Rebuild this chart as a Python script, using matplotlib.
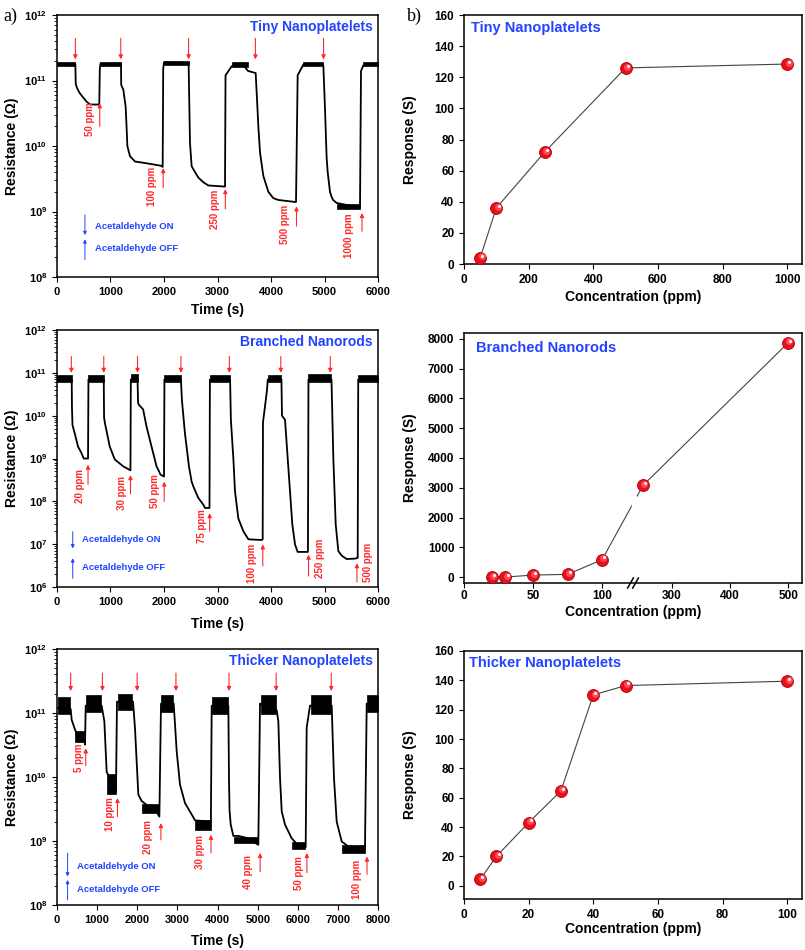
import numpy as np
import matplotlib
matplotlib.use('Agg')
import matplotlib.pyplot as plt
from matplotlib.transforms import offset_copy
from matplotlib.ticker import LogLocator, FuncFormatter, NullFormatter
from matplotlib.patches import Rectangle

plt.rcParams.update({
    'font.family': ['Liberation Sans', 'DejaVu Sans'],
    'font.weight': 'bold',
    'axes.labelweight': 'bold',
    'mathtext.fontset': 'custom',
    'mathtext.rm': 'Liberation Sans:bold',
    'mathtext.bf': 'Liberation Sans:bold',
    'mathtext.default': 'bf',
    'xtick.direction': 'out',
    'ytick.direction': 'out',
    'xtick.major.size': 3.5,
    'ytick.major.size': 3.5,
    'ytick.minor.size': 2,
    'axes.linewidth': 1.1,
})

RED = '#ff2a2a'
BLUE = '#2244ff'

# ---------------- a) resistance transients ----------------
# tiny nanoplatelets
t_tiny = [0, 343, 350, 370, 420, 490, 560, 620, 790, 800, 812,
          1196, 1200, 1240, 1283, 1300, 1315, 1364, 1458, 1645, 1944, 1975, 1985, 2000,
          2460, 2470, 2486, 2517, 2579, 2641, 2735, 2828, 3140, 3150, 3265, 3450, 3570, 3713,
          3732, 3763, 3794, 3856, 3950, 4043, 4137, 4449, 4467, 4498, 4604, 4947,
          4978, 5009, 5040, 5059, 5102, 5130, 5160, 5227, 5663, 5682, 5725, 6000]
r_tiny = [1.8e11, 1.8e11, 9e10, 7.8e10, 6.5e10, 5.5e10, 4.7e10, 4.3e10, 4.3e10, 1.5e11, 1.8e11,
          1.8e11, 8.6e10, 7.2e10, 4e10, 2e10, 1e10, 7e9, 5.8e9, 5.5e9, 5e9, 4.8e9, 1.5e11, 1.9e11,
          1.85e11, 6e10, 1.1e10, 4.9e9, 4e9, 3.3e9, 2.8e9, 2.5e9, 2.4e9, 1.2e11, 1.65e11, 1.85e11, 1.4e11, 1.3e11,
          6.5e10, 2e10, 8e9, 3.5e9, 2e9, 1.6e9, 1.5e9, 1.4e9, 1.4e9, 1.2e11, 1.75e11, 1.8e11,
          1.7e11, 3.7e10, 6.5e9, 4e9, 2e9, 1.7e9, 1.5e9, 1.35e9, 1.15e9, 1.4e11, 1.7e11, 1.8e11]
band_tiny = [(0, 343, 1.65e11, 1.95e11), (812, 1196, 1.65e11, 1.95e11), (2000, 2460, 1.7e11, 2.0e11),
             (3265, 3570, 1.6e11, 1.95e11), (4604, 4978, 1.65e11, 1.95e11), (5725, 6000, 1.65e11, 1.95e11),
             (5230, 5663, 1.08e9, 1.3e9)]
on_tiny = [343, 1192, 2460, 3708, 4982]
off_tiny = [799, 1985, 3146, 4476, 5700]
off_tail_tiny = [2e10, 2.3e9, 1.1e9, 6e8, 5e8]
off_tip_tiny = [4.5e10, 4.6e9, 2.2e9, 1.2e9, 9.5e8]
lab_tiny = ['50 ppm', '100 ppm', '250 ppm', '500 ppm', '1000 ppm']
lab_t_tiny = [624, 1767, 2953, 4264, 5450]
lab_r_tiny = [2.6e10, 2.4e9, 1.07e9, 6.3e8, 4.3e8]

# branched nanorods
t_rod = [0, 275, 280, 290, 331, 393, 450, 500, 580, 588,
         874, 880, 893, 986, 1080, 1236, 1373, 1380,
         1505, 1515, 1530, 1610, 1673, 1767, 1860, 1935, 2000, 2008,
         2316, 2335, 2391, 2466, 2516, 2550, 2641, 2734, 2766, 2850, 2858,
         3235, 3250, 3296, 3327, 3389, 3483, 3577, 3826, 3844, 3850, 3900, 3925, 3940,
         4195, 4205, 4262, 4312, 4355, 4398, 4449, 4498, 4690, 4700,
         5130, 5165, 5209, 5258, 5321, 5414, 5570, 5620, 5630, 6000]
r_rod = [7e10, 7e10, 1.5e10, 6e9, 3.9e9, 1.9e9, 1.4e9, 1e9, 1e9, 7e10,
         7e10, 9e9, 7e9, 1.9e9, 9.5e8, 6.6e8, 5.3e8, 7e10,
         7.5e10, 2e10, 1.8e10, 1.4e10, 5.6e9, 1.9e9, 6.6e8, 4.2e8, 3.8e8, 7e10,
         7e10, 2.3e10, 3.9e9, 6.6e8, 2.9e8, 2.2e8, 1.2e8, 8.4e7, 7e7, 7e7, 7e10,
         7e10, 8e9, 1e9, 1.7e8, 4e7, 2e7, 1.3e7, 1.25e7, 1.3e7, 7e9, 2.2e10, 4e10, 7e10,
         7e10, 1e10, 8e9, 1e9, 1.7e8, 2.9e7, 9.8e6, 6.6e6, 6.6e6, 7e10,
         7e10, 1e9, 2.9e7, 6.9e6, 5.4e6, 4.5e6, 4.6e6, 4.8e6, 7e10, 7e10]
band_rod = [(0, 275, 6e10, 9e10), (588, 874, 6e10, 9e10), (1380, 1505, 6e10, 9.5e10),
            (2008, 2316, 6e10, 9e10), (2858, 3235, 6e10, 9e10), (3940, 4195, 6e10, 9e10),
            (4700, 5130, 6e10, 9.5e10), (5630, 6000, 6e10, 9e10)]
on_rod = [268, 874, 1505, 2316, 3221, 4183, 5107]
off_rod = [580, 1373, 2004, 2853, 3846, 4701, 5606]
off_tail_rod = [2.5e8, 1.5e8, 1e8, 2e7, 3.1e6, 1.8e6, 1.3e6]
off_tip_rod = [7.2e8, 4.1e8, 2.9e8, 5.3e7, 9.9e6, 5.7e6, 3.6e6]
lab_rod = ['20 ppm', '30 ppm', '50 ppm', '75 ppm', '100 ppm', '250 ppm', '500 ppm']
lab_t_rod = [424, 1224, 1829, 2703, 3652, 4920, 5812]
lab_r_rod = [2.3e8, 1.6e8, 1.7e8, 2.7e7, 3.5e6, 4.6e6, 3.8e6]

# thicker nanoplatelets
t_thick = [0, 341, 366, 449, 500, 690, 698, 716,
           1112, 1180, 1238, 1470, 1495,
           1895, 1944, 1986, 2027, 2110, 2276, 2442, 2551, 2592,
           2908, 2941, 2983, 3065, 3190, 3356, 3440, 3835, 3855,
           4270, 4286, 4300, 4329, 4395, 4520, 4768, 5017, 5059,
           5475, 5516, 5558, 5600, 5682, 5849, 6013, 6197, 6222, 6305,
           6846, 6862, 6903, 6970, 7095, 7260, 7675, 7718, 8000]
r_thick = [1.2e11, 1.15e11, 7.8e10, 5.5e10, 4.5e10, 3.5e10, 3.2e10, 1.3e11,
           1.3e11, 7.4e10, 1.2e10, 6e9, 1.5e11,
           1.5e11, 5.7e10, 1.7e10, 5.3e9, 4.2e9, 3.5e9, 3.1e9, 2.4e9, 1.4e11,
           1.4e11, 6.6e10, 2.5e10, 7.6e9, 3.9e9, 2.6e9, 2.1e9, 2e9, 1.3e11,
           1.3e11, 9.5e9, 3e9, 1.8e9, 1.2e9, 1.2e9, 1.1e9, 8.7e8, 1.4e11,
           1.1e11, 7.4e10, 9.5e9, 2.9e9, 1.8e9, 1.1e9, 8.5e8, 8e8, 5.9e10, 1.3e11,
           1.3e11, 6e10, 9.5e9, 2e9, 9.8e8, 8.2e8, 7.8e8, 1.4e11, 1.4e11]
band_thick = [(20, 330, 9.5e10, 1.8e11), (730, 1100, 1.05e11, 1.9e11), (1510, 1880, 1.1e11, 2.0e11),
              (2600, 2900, 1.05e11, 1.9e11), (3870, 4260, 9.5e10, 1.8e11), (5075, 5460, 9.5e10, 1.9e11),
              (6320, 6835, 9.5e10, 1.9e11), (7730, 8000, 1.05e11, 1.9e11),
              (460, 680, 3.5e10, 5.2e10), (1250, 1460, 5.5e9, 1.1e10), (2130, 2540, 2.7e9, 3.8e9),
              (3450, 3830, 1.5e9, 2.1e9), (4420, 5010, 9.2e8, 1.15e9), (5860, 6190, 7.6e8, 9.5e8),
              (7110, 7670, 6.5e8, 8.8e8)]
on_thick = [341, 1132, 1998, 2964, 4287, 5461, 6835]
off_thick = [716, 1507, 2589, 3838, 5062, 6227, 7725]
off_tail_thick = [1.5e10, 2.4e9, 1.04e9, 6.5e8, 3.3e8, 3.2e8, 3e8]
off_tip_thick = [2.8e10, 4.7e9, 1.9e9, 1.25e9, 6.5e8, 6.5e8, 5.7e8]
lab_thick = ['5 ppm', '10 ppm', '20 ppm', '30 ppm', '40 ppm', '50 ppm', '100 ppm']
lab_t_thick = [549, 1315, 2273, 3563, 4770, 6019, 7476]
lab_r_thick = [2.0e10, 2.6e9, 1.17e9, 6.8e8, 3.3e8, 3.2e8, 2.5e8]

# ---------------- b) response vs concentration ----------------
conc_tiny = [50, 100, 250, 500, 1000]
resp_tiny = [4, 36, 72, 126, 128.5]
conc_rod = [20, 30, 50, 75, 100, 250, 500]
resp_rod = [0, 0, 67, 90, 584, 3080, 7870]
conc_thick = [5, 10, 20, 30, 40, 50, 100]
resp_thick = [4.3, 20, 43, 64.7, 130, 136.4, 139.4]

fig = plt.figure(figsize=(8.05, 9.5), dpi=100)


def left_panel(rect, t, r, bands, tmax, ylo, title, on_t, on_r, off_t, off_tail, off_tip,
               labs, lab_t, lab_r, leg, xlab_y):
    ax = fig.add_axes(rect)
    for t0, t1, lo, hi in bands:
        ax.fill_between([t0, t1], [lo, lo], [hi, hi], color='black', lw=0.5)
    ax.plot(t, r, color='black', lw=1.3)
    ax.set_yscale('log')
    ax.set_xlim(0, tmax)
    ax.set_ylim(ylo, 1e12)
    ax.set_xticks(np.arange(0, tmax + 1, 1000))
    ax.yaxis.set_major_locator(LogLocator(base=10, numticks=10))
    ax.yaxis.set_minor_locator(LogLocator(base=10, subs=np.arange(2, 10), numticks=10))
    ax.yaxis.set_minor_formatter(NullFormatter())
    ax.yaxis.set_major_formatter(FuncFormatter(lambda v, p: r'$10^{%d}$' % round(np.log10(v))))
    ax.tick_params(labelsize=8)
    ax.set_xlabel('Time (s)', fontsize=10)
    ax.set_ylabel('Resistance (\u03a9)', fontsize=10)
    ax.xaxis.set_label_coords(0.5, xlab_y)
    ax.yaxis.set_label_coords(-0.118, 0.5)
    ax.text(0.983, 0.953, title, transform=ax.transAxes, ha='right', va='center',
            color=BLUE, fontsize=10, fontweight='bold')
    for x in on_t:
        ax.annotate('', xy=(x, on_r[1]), xytext=(x, on_r[0]),
                    arrowprops=dict(arrowstyle='-|>', color=RED, lw=0.8, shrinkA=0, shrinkB=0,
                                    mutation_scale=6))
    for x, a, b in zip(off_t, off_tail, off_tip):
        ax.annotate('', xy=(x, b), xytext=(x, a),
                    arrowprops=dict(arrowstyle='-|>', color=RED, lw=0.8, shrinkA=0, shrinkB=0,
                                    mutation_scale=6))
    for s, x, y in zip(labs, lab_t, lab_r):
        ax.text(x, y, s, rotation=90, ha='center', va='center', color=RED, fontsize=7,
                fontweight='bold')
    ax_x, tx, d0, d1, u0, u1, y_on, y_off = leg
    ax.annotate('', xy=(ax_x, d1), xytext=(ax_x, d0), xycoords='axes fraction',
                arrowprops=dict(arrowstyle='-|>', color=BLUE, lw=0.7, shrinkA=0, shrinkB=0,
                                mutation_scale=5))
    ax.annotate('', xy=(ax_x, u1), xytext=(ax_x, u0), xycoords='axes fraction',
                arrowprops=dict(arrowstyle='-|>', color=BLUE, lw=0.7, shrinkA=0, shrinkB=0,
                                mutation_scale=5))
    ax.text(tx, y_on, 'Acetaldehyde ON', transform=ax.transAxes, color=BLUE, fontsize=6.8,
            va='center', fontweight='bold')
    ax.text(tx, y_off, 'Acetaldehyde OFF', transform=ax.transAxes, color=BLUE, fontsize=6.8,
            va='center', fontweight='bold')
    return ax


left_panel([0.0708, 0.7084, 0.3988, 0.2758], t_tiny, r_tiny, band_tiny, 6000, 1e8,
           'Tiny Nanoplatelets', on_tiny, (4.4e11, 2.1e11), off_tiny, off_tail_tiny, off_tip_tiny,
           lab_tiny, lab_t_tiny, lab_r_tiny,
           (0.087, 0.118, 0.237, 0.16, 0.067, 0.144, 0.192, 0.11), -0.099)
left_panel([0.0708, 0.3821, 0.3988, 0.2705], t_rod, r_rod, band_rod, 6000, 1e6,
           'Branched Nanorods', on_rod, (2.4e11, 1e11), off_rod, off_tail_rod, off_tip_rod,
           lab_rod, lab_t_rod, lab_r_rod,
           (0.049, 0.077, 0.215, 0.15, 0.034, 0.112, 0.183, 0.077), -0.118)
left_panel([0.0708, 0.0474, 0.3988, 0.2695], t_thick, r_thick, band_thick, 8000, 1e8,
           'Thicker Nanoplatelets', on_thick, (4.2e11, 2.2e11), off_thick, off_tail_thick,
           off_tip_thick, lab_thick, lab_t_thick, lab_r_thick,
           (0.033, 0.061, 0.202, 0.111, 0.02, 0.098, 0.15, 0.059), -0.115)


def brk_fwd(x):
    x = np.asarray(x, float)
    return np.where(x <= 122.5, x * 1.38, 169 + np.maximum(x - 233, 0) * 0.58)


def brk_inv(y):
    y = np.asarray(y, float)
    return np.where(y <= 169, y / 1.38, 233 + (y - 169) / 0.58)


def right_panel(rect, x, y, title, title_xy, xlab_y):
    ax = fig.add_axes(rect)
    ax.plot(x, y, color='#444444', lw=0.8, zorder=2)
    ax.plot(x, y, ls='none', marker='o', ms=8.6, mfc='#e8101a', mec='#b00010', mew=0.6, zorder=3)
    hi = offset_copy(ax.transData, fig=fig, x=1.0, y=1.0, units='points')
    ax.plot(x, y, ls='none', marker='o', ms=5, mfc='#ff4a55', mec='none', transform=hi, zorder=4)
    hi2 = offset_copy(ax.transData, fig=fig, x=1.6, y=1.6, units='points')
    ax.plot(x, y, ls='none', marker='o', ms=2.2, mfc='white', mec='none', transform=hi2, zorder=5)
    ax.tick_params(labelsize=8.5)
    ax.set_xlabel('Concentration (ppm)', fontsize=10)
    ax.set_ylabel('Response (S)', fontsize=10)
    ax.xaxis.set_label_coords(0.5, xlab_y)
    ax.yaxis.set_label_coords(-0.139, 0.5)
    ax.text(title_xy[0], title_xy[1], title, transform=ax.transAxes, ha='left', va='center',
            color=BLUE, fontsize=10.5, fontweight='bold')
    return ax


ax = right_panel([0.5764, 0.7221, 0.4199, 0.2621], conc_tiny, resp_tiny, 'Tiny Nanoplatelets',
                 (0.02, 0.949), -0.104)
ax.set_xlim(0, 1046)
ax.set_ylim(0, 160)
ax.set_xticks(np.arange(0, 1001, 200))
ax.set_yticks(np.arange(0, 161, 20))

ax = right_panel([0.5764, 0.3863, 0.4199, 0.2632], conc_rod, resp_rod, 'Branched Nanorods',
                 (0.035, 0.941), -0.088)
ax.set_xscale('function', functions=(brk_fwd, brk_inv))
ax.set_xlim(0, 524)
ax.set_ylim(-200, 8200)
ax.set_xticks([0, 50, 100, 300, 400, 500])
ax.set_xticklabels(['0', '50', '100', '300', '400', '500'])
ax.set_yticks(np.arange(0, 8001, 1000))
ax.tick_params(axis='x', pad=1.5)
ax.add_patch(Rectangle((0.496, 0.30), 0.014, 0.05, transform=ax.transAxes, color='white',
                       zorder=2.5))
for x0 in (0.484, 0.499):
    ax.plot([x0, x0 + 0.017], [-0.02, 0.02], transform=ax.transAxes, color='black', lw=1.1,
            clip_on=False)

ax = right_panel([0.5764, 0.0537, 0.4199, 0.2611], conc_thick, resp_thick, 'Thicker Nanoplatelets',
                 (0.016, 0.95), -0.092)
ax.set_xlim(0, 104.6)
ax.set_ylim(-9, 160)
ax.set_xticks(np.arange(0, 101, 20))
ax.set_yticks(np.arange(0, 161, 20))

fig.text(0.004, 0.992, 'a)', family='Liberation Serif', fontsize=13, fontweight='normal', va='top')
fig.text(0.505, 0.992, 'b)', family='Liberation Serif', fontsize=13, fontweight='normal', va='top')

fig.savefig('out.png', dpi=100)
